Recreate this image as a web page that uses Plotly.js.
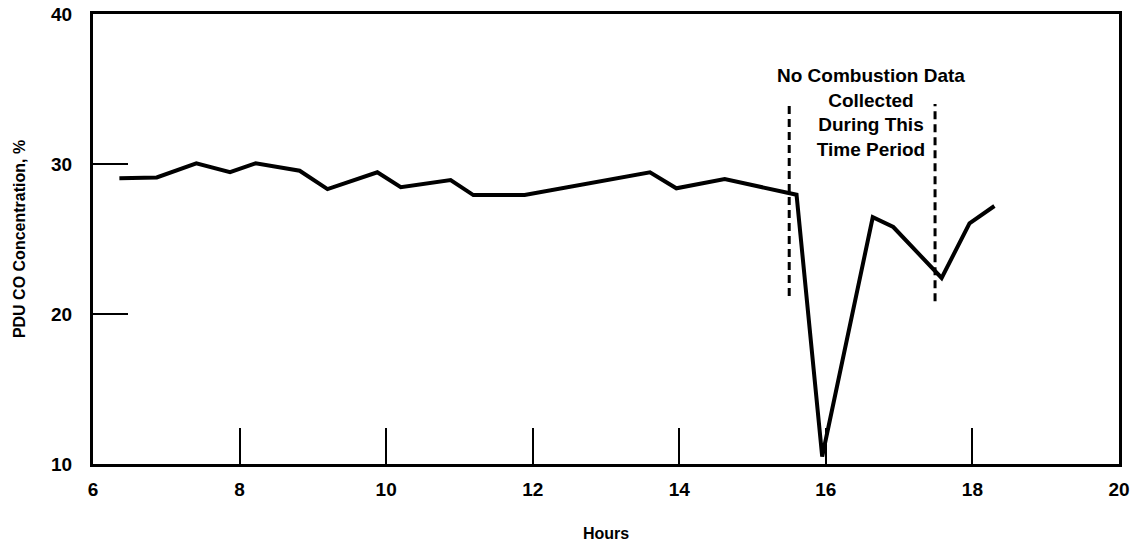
<!DOCTYPE html>
<html>
<head>
<meta charset="utf-8">
<script src="https://cdn.plot.ly/plotly-3.0.1.min.js"></script>
<style>html,body{margin:0;padding:0;background:#fff;}#chart{width:1140px;height:545px;}</style>
</head>
<body>
<div id="chart"></div>
<script>
// CO concentration series (hours, %)
var hours = [6.36, 6.87, 7.41, 7.87, 8.22, 8.82, 9.2, 9.88, 10.2, 10.88, 11.19, 11.89, 13.6, 13.96, 14.62, 15.5, 15.6, 15.95, 16.64, 16.92, 17.58, 17.96, 18.3];
var coPct = [29.05, 29.1, 30.05, 29.45, 30.05, 29.55, 28.33, 29.45, 28.45, 28.93, 27.93, 27.93, 29.45, 28.38, 29.0, 28.05, 27.95, 10.5, 26.45, 25.8, 22.4, 26.05, 27.2];

// Dashed boundaries of the "no combustion data" period
var gapStart = [15.5, 15.5];
var gapStartY = [21.2, 33.9];
var gapEnd = [17.49, 17.49];
var gapEndY = [20.85, 34.0];

var xTicks = [6, 8, 10, 12, 14, 16, 18, 20];
var xTickText = ["6", "8", "10", "12", "14", "16", "18", "20"];
var yTicks = [10, 20, 30, 40];
var yTickText = ["10", "20", "30", "40"];
var noteText = "No Combustion Data<br>Collected<br>During This<br>Time Period";
var noteX = 16.62, noteY = 33.45;

var FONT = "Liberation Sans, Arial, sans-serif";

var traces = [
  {x: hours, y: coPct, type: "scatter", mode: "lines",
   line: {color: "#000", width: 4, shape: "linear"}, hoverinfo: "skip"},
  {x: gapStart, y: gapStartY, type: "scatter", mode: "lines",
   line: {color: "#000", width: 3, dash: "8px,5px"}, hoverinfo: "skip"},
  {x: gapEnd, y: gapEndY, type: "scatter", mode: "lines",
   line: {color: "#000", width: 3, dash: "8px,5px"}, hoverinfo: "skip"}
];

var layout = {
  width: 1140, height: 545,
  margin: {l: 93, r: 21, t: 14, b: 81, pad: 0},
  paper_bgcolor: "#fff", plot_bgcolor: "#fff",
  showlegend: false,
  font: {family: FONT, color: "#000", weight: 700},
  xaxis: {
    range: [6, 20], tickmode: "array", tickvals: xTicks,
    ticktext: xTickText.map(function (t) { return "<b>" + t + "</b>"; }),
    ticks: "inside", ticklen: 36, tickwidth: 2, tickcolor: "#000",
    showline: true, linewidth: 3, linecolor: "#000", mirror: true,
    showgrid: false, zeroline: false,
    tickfont: {family: FONT, size: 19, weight: 700, color: "#000"},
    ticklabelstandoff: 6,
    title: {text: "<b>Hours</b>", font: {family: FONT, size: 16, weight: 700, color: "#000"}, standoff: 30}
  },
  yaxis: {
    range: [10, 40], tickmode: "array", tickvals: yTicks,
    ticktext: yTickText.map(function (t) { return "<b>" + t + "</b>"; }),
    ticks: "inside", ticklen: 35, tickwidth: 2, tickcolor: "#000",
    showline: true, linewidth: 3, linecolor: "#000", mirror: true,
    showgrid: false, zeroline: false,
    tickfont: {family: FONT, size: 19, weight: 700, color: "#000"},
    ticklabelstandoff: 14,
    title: {text: "<b>PDU CO Concentration, %</b>", font: {family: FONT, size: 16, weight: 700, color: "#000"}, standoff: 22}
  },
  annotations: [{
    x: noteX, y: noteY, xref: "x", yref: "y", text: "<b>" + noteText + "</b>", showarrow: false,
    align: "center", xanchor: "center", yanchor: "middle",
    font: {family: FONT, size: 19, weight: 700, color: "#000"}
  }]
};

Plotly.newPlot("chart", traces, layout, {displayModeBar: false, staticPlot: true});
</script>
</body>
</html>
